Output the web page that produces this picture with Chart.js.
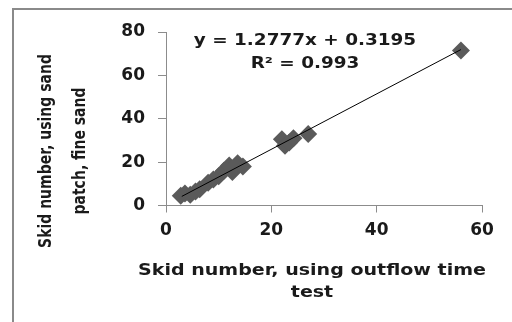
<!DOCTYPE html>
<html>
<head>
<meta charset="utf-8">
<script src="https://cdn.jsdelivr.net/npm/chart.js@4.4.0/dist/chart.umd.min.js"></script>
<style>
  html, body { margin: 0; padding: 0; background: #fff; }
  #wrap { width: 512px; height: 322px; position: relative; }
</style>
</head>
<body>
<div id="wrap"><canvas id="chart" width="512" height="322"></canvas></div>
<script>
// measured points (outflow time test vs sand patch, fine sand)
const outflowSkid = [2.8, 3.6, 4.6, 5.6, 6.4, 8.0, 9.0, 10.0, 11.0, 12.0, 12.6, 13.6, 14.6, 22.0, 22.6, 23.4, 24.2, 27.0, 56.0];
const sandPatchSkid = [4.5, 5.5, 5.0, 6.5, 7.5, 10.5, 12.0, 13.5, 16.0, 18.5, 15.5, 19.5, 18.0, 30.5, 27.5, 29.0, 31.0, 33.0, 71.5];

// linear trendline ends
const trendX = [3, 56];
const trendY = [4.2, 71.9];

const xTicks = [0, 20, 40, 60];
const yTicks = [0, 20, 40, 60, 80];

const equationText = ["y = 1.2777x + 0.3195", "R\u00b2 = 0.993"];
const xTitle = ["Skid number, using outflow time", "test"];
const yTitle = ["Skid number, using sand", "patch, fine sand"];

const FONT = "'DejaVu Sans', sans-serif";
const AXIS_GREY = "#8c8c8c";
const TEXT_COL = "#1a1a1a";

var points = outflowSkid.map(function (x, i) { return { x: x, y: sandPatchSkid[i] }; });
var trend = trendX.map(function (x, i) { return { x: x, y: trendY[i] }; });

// the original picture is a bit stretched sideways, so the texts get a small x-scale
function wideText(ctx, txt, x, y, sx) {
  ctx.save();
  ctx.translate(x, y);
  ctx.scale(sx, 1);
  ctx.fillText(txt, 0, 0);
  ctx.restore();
}

// outer frame, axis titles, equation label
const extras = {
  id: "extras",
  afterDraw: function (chart) {
    var ctx = chart.ctx;
    ctx.save();
    ctx.strokeStyle = "#8a8a8a";
    ctx.lineWidth = 2;
    ctx.strokeRect(13, 9, 520, 340);

    ctx.fillStyle = TEXT_COL;
    ctx.textAlign = "center";
    ctx.textBaseline = "middle";

    ctx.font = "bold 16px " + FONT;
    wideText(ctx, equationText[0], 305, 41, 1.15);
    wideText(ctx, equationText[1], 305, 64, 1.15);

    ctx.font = "bold 16px " + FONT;
    wideText(ctx, xTitle[0], 312, 271, 1.19);
    wideText(ctx, xTitle[1], 312, 293, 1.19);

    // rotated y title, stretched across its line height
    ctx.font = "bold 14px " + FONT;
    [47, 81].forEach(function (cx, i) {
      ctx.save();
      ctx.translate(cx, 151);
      ctx.rotate(-Math.PI / 2);
      ctx.scale(1, 1.2);
      ctx.fillText(yTitle[i], 0, 0);
      ctx.restore();
    });
    ctx.restore();
  }
};

var ctx = document.getElementById("chart").getContext("2d");
var myChart = new Chart(ctx, {
  type: "scatter",
  data: {
    datasets: [
      {
        label: "Trend",
        data: trend,
        type: "line",
        borderColor: "#000",
        borderWidth: 1,
        pointRadius: 0,
        fill: false,
        order: 0
      },
      {
        label: "Skid number",
        data: points,
        pointStyle: "rectRot",
        pointRadius: 9,
        backgroundColor: "#5a5a5a",
        borderColor: "#5a5a5a",
        borderWidth: 0,
        order: 1
      }
    ]
  },
  options: {
    responsive: false,
    animation: false,
    layout: { padding: { left: 12, top: 32, right: 30, bottom: 0 } },
    plugins: {
      legend: { display: false },
      tooltip: { enabled: false }
    },
    scales: {
      x: {
        type: "linear",
        min: 0,
        max: 60,
        afterBuildTicks: function (scale) {
          scale.ticks = xTicks.map(function (v) { return { value: v }; });
        },
        afterFit: function (scale) { scale.height = 116.5; },
        grid: { display: true, drawOnChartArea: false, drawTicks: true, tickLength: 7, color: AXIS_GREY },
        border: { color: AXIS_GREY },
        ticks: { color: TEXT_COL, font: { family: FONT, size: 17, weight: "bold" }, padding: 8 }
      },
      y: {
        type: "linear",
        min: 0,
        max: 80,
        afterBuildTicks: function (scale) {
          scale.ticks = yTicks.map(function (v) { return { value: v }; });
        },
        afterFit: function (scale) { scale.width = 154; },
        grid: { display: true, drawOnChartArea: false, drawTicks: true, tickLength: 8, color: AXIS_GREY },
        border: { color: AXIS_GREY },
        ticks: { color: TEXT_COL, font: { family: FONT, size: 17, weight: "bold" }, padding: 13 }
      }
    }
  },
  plugins: [extras]
});
</script>
</body>
</html>
